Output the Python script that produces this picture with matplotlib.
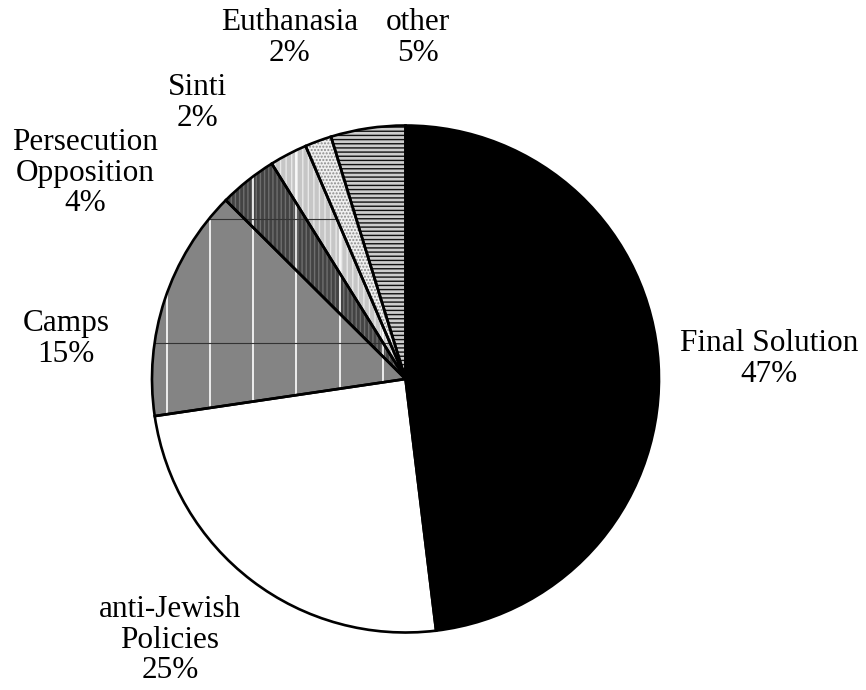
import numpy as np
import matplotlib
matplotlib.use('Agg')
import matplotlib.pyplot as plt
from matplotlib.patches import Wedge

# slices counter-clockwise from the top
categories = ['other', 'Euthanasia', 'Sinti', 'Persecution\nOpposition',
              'Camps', 'anti-Jewish\nPolicies', 'Final Solution']
shares = [4.75, 1.7, 2.4, 3.7, 14.8, 24.6, 48.1]
pct_labels = ['5%', '2%', '2%', '4%', '15%', '25%', '47%']

face_colors = ['#cccccc', '#f0f0f0', '#c6c6c6', '#434343', '#848484', 'white', 'black']
hatches = ['----', '.....', '|||', '||||', None, None, None]
hatch_colors = ['#111111', '#8a8a8a', '#e8e8e8', '#6e6e6e', None, None, None]

# label placement around the pie (in units of the radius)
label_pos = [(0.05, 1.345), (-0.456, 1.345), (-0.822, 1.09), (-1.264, 0.812),
             (-1.339, 0.158), (-0.929, -1.03), (1.434, 0.079)]

plt.rcParams['font.family'] = ['Liberation Serif', 'DejaVu Serif']
plt.rcParams['hatch.linewidth'] = 1.0

fig = plt.figure(figsize=(8.66, 6.9), dpi=100)
ax = fig.add_axes([0, 0, 1, 1])

wedges, _ = ax.pie(shares, colors=face_colors, startangle=90, counterclock=True,
                   wedgeprops=dict(linewidth=0))

# hatch layers on top of the faces
for w, h, hc in zip(wedges, hatches, hatch_colors):
    if h is None:
        continue
    ax.add_patch(Wedge(w.center, w.r, w.theta1, w.theta2, facecolor='none',
                       edgecolor=hc, linewidth=0, hatch=h, zorder=2))

# the coarse grid texture of Camps / Persecution / Sinti
grid_x = np.arange(-0.94, 0.0, 0.17)
grid_y = [0.63, 0.143]
for w in wedges[2:5]:
    vl = ax.vlines(grid_x, -1, 1, colors='white', linewidth=1.2, zorder=3)
    vl.set_clip_path(w)
    hl = ax.hlines(grid_y, -1, 0, colors='#333333', linewidth=0.8, zorder=3)
    hl.set_clip_path(w)

# outlines
for w in wedges:
    ax.add_patch(Wedge(w.center, w.r, w.theta1, w.theta2, fill=False,
                       edgecolor='black', linewidth=1.9, zorder=4))

for name, pct, (x, y) in zip(categories, pct_labels, label_pos):
    ax.text(x, y, name + '\n' + pct, ha='center', va='center',
            multialignment='center', fontsize=22.5, linespacing=1.08)

R = 253.5
ax.set_xlim(-405.5 / R, (866 - 405.5) / R)
ax.set_ylim(-(690 - 379) / R, 379 / R)
ax.set_aspect('auto')
ax.axis('off')

fig.savefig('out.png', dpi=100, facecolor='white')
